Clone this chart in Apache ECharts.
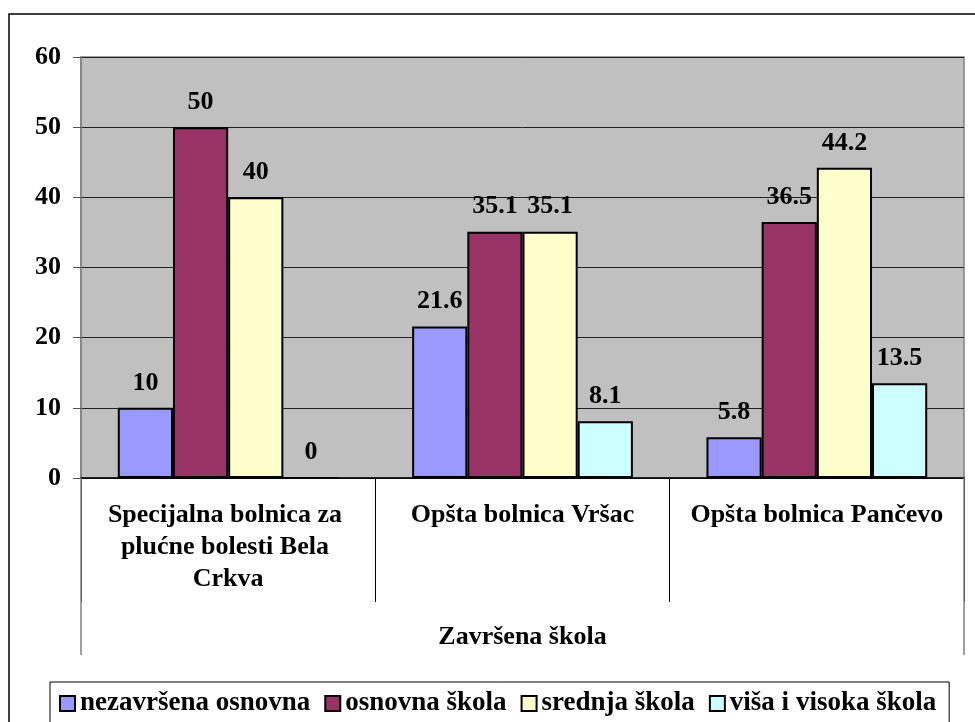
<!DOCTYPE html>
<html>
<head>
    <meta charset="utf-8">
    <title>Završena škola</title>
    <script src="https://cdn.jsdelivr.net/npm/echarts@6/dist/echarts.min.js"></script>
    <style>
        html, body { margin: 0; padding: 0; background: #fff; }
        #main { width: 975px; height: 722px; }
    </style>
</head>
<body>
<div id="main"></div>

<script type="text/javascript">
    // podaci (%)
    var categories = ['Specijalna bolnica za plućne bolesti Bela Crkva', 'Opšta bolnica Vršac', 'Opšta bolnica Pančevo'];
    var groupLabel = ['Završena škola'];
    var seriesNames = ['nezavršena osnovna', 'osnovna škola', 'srednja škola', 'viša i visoka škola'];
    var nezavrsena = [10, 21.6, 5.8];
    var osnovna = [50, 35.1, 36.5];
    var srednja = [40, 35.1, 44.2];
    var visa = [0, 8.1, 13.5];
    var colors = ['#9999FF', '#993366', '#FFFFCC', '#CCFFFF'];

    var font = 'Liberation Serif, Times New Roman, serif';
    var values = [nezavrsena, osnovna, srednja, visa];

    var myChart = echarts.init(document.getElementById('main'));

    var series = [];
    for (var i = 0; i < seriesNames.length; i++) {
        series.push({
            name: seriesNames[i],
            type: 'bar',
            data: values[i],
            barGap: '0%',
            barCategoryGap: '25%',
            itemStyle: { color: colors[i], borderColor: '#000', borderWidth: 2 },
            label: {
                show: true,
                position: 'top',
                distance: 12,
                color: '#000',
                fontFamily: font,
                fontWeight: 'bold',
                fontSize: 26
            }
        });
    }

    var option = {
        backgroundColor: '#fff',
        animation: false,
        color: colors,
        graphic: [{
            type: 'rect',
            shape: { x: 9, y: 14, width: 1000, height: 800 },
            style: { fill: 'none', stroke: '#000', lineWidth: 1.5 },
            silent: true
        }],
        grid: {
            left: 81, top: 57, right: 11, bottom: 244,
            show: true,
            backgroundColor: '#C0C0C0',
            borderColor: '#808080',
            borderWidth: 1.5
        },
        legend: {
            left: 50,
            top: 682,
            data: seriesNames,
            icon: 'rect',
            itemWidth: 15,
            itemHeight: 15,
            itemGap: 14,
            borderColor: '#000',
            borderWidth: 1,
            padding: [8, 13, 40, 9],
            itemStyle: { borderColor: '#000', borderWidth: 2 },
            textStyle: { color: '#000', fontFamily: font, fontWeight: 'bold', fontSize: 27 }
        },
        xAxis: [{
            type: 'category',
            data: categories,
            position: 'bottom',
            axisLine: { show: true, lineStyle: { color: '#000', width: 1.5 } },
            axisTick: { show: true, length: 124, lineStyle: { color: '#000', width: 1 } },
            axisLabel: {
                interval: 0,
                margin: 21,
                color: '#000',
                fontFamily: font,
                fontWeight: 'bold',
                fontSize: 26,
                lineHeight: 32,
                width: 285,
                overflow: 'break',
                align: 'center'
            }
        }, {
            type: 'category',
            data: groupLabel,
            position: 'bottom',
            axisLine: { show: false },
            axisTick: { show: true, length: 177, lineStyle: { color: '#808080', width: 1.5 } },
            axisLabel: {
                margin: 146,
                color: '#000',
                fontFamily: font,
                fontWeight: 'bold',
                fontSize: 26
            }
        }],
        yAxis: {
            type: 'value',
            min: 0,
            max: 60,
            interval: 10,
            axisLine: { show: true, lineStyle: { color: '#808080', width: 1.5 } },
            axisTick: { show: true, length: 8, lineStyle: { color: '#555' } },
            splitLine: { show: true, lineStyle: { color: '#222', width: 1 } },
            axisLabel: {
                margin: 20,
                color: '#000',
                fontFamily: font,
                fontWeight: 'bold',
                fontSize: 26
            }
        },
        series: series
    };

    myChart.setOption(option);
</script>
</body>
</html>
